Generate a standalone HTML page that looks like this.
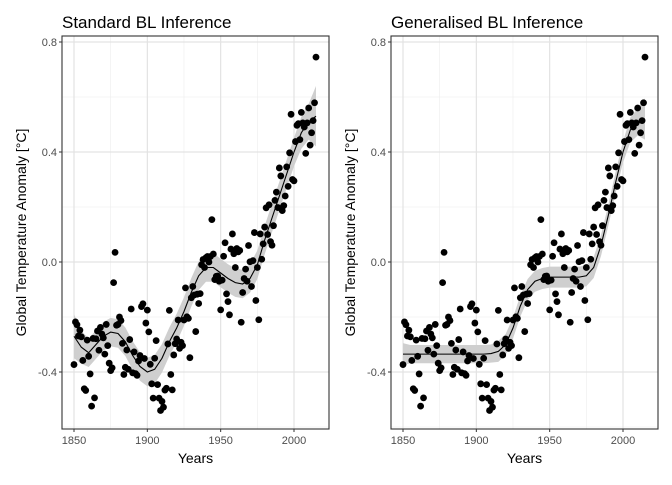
<!DOCTYPE html>
<html><head><meta charset="utf-8"><style>
body{margin:0;background:#fff;font-family:"Liberation Sans",sans-serif}
svg text{font-family:"Liberation Sans",sans-serif}
</style></head><body>
<svg width="672" height="480" xmlns="http://www.w3.org/2000/svg">
<g id="root"></g>
</svg>
<script>
const years=[];for(let y=1850;y<=2015;y++)years.push(y);
const anomalies=[-0.373,-0.218,-0.228,-0.269,-0.248,-0.272,-0.358,-0.461,-0.467,-0.284,-0.343,-0.407,-0.524,-0.278,-0.494,-0.279,-0.251,-0.321,-0.238,-0.262,-0.276,-0.335,-0.227,-0.304,-0.368,-0.395,-0.385,-0.075,0.035,-0.23,-0.227,-0.2,-0.213,-0.296,-0.409,-0.383,-0.32,-0.39,-0.282,-0.171,-0.403,-0.327,-0.406,-0.412,-0.36,-0.34,-0.162,-0.152,-0.351,-0.222,-0.175,-0.254,-0.372,-0.443,-0.495,-0.35,-0.286,-0.446,-0.495,-0.54,-0.507,-0.528,-0.466,-0.459,-0.298,-0.176,-0.409,-0.465,-0.338,-0.297,-0.28,-0.211,-0.314,-0.292,-0.304,-0.211,-0.094,-0.199,-0.205,-0.348,-0.13,-0.089,-0.12,-0.253,-0.117,-0.151,-0.115,-0.01,0.009,-0.02,0.016,0.02,0.0,0.02,0.154,0.029,-0.064,-0.052,-0.051,-0.07,-0.174,-0.066,0.021,0.07,-0.116,-0.144,-0.192,0.047,0.102,0.03,-0.02,0.049,0.037,0.042,-0.219,-0.111,-0.06,-0.026,-0.07,0.06,0.001,-0.089,0.005,0.107,-0.14,-0.02,-0.21,0.102,0.01,0.066,0.127,0.197,0.1,0.208,0.074,0.061,0.132,0.224,0.254,0.198,0.342,0.313,0.187,0.205,0.24,0.346,0.275,0.397,0.537,0.3,0.295,0.438,0.497,0.503,0.445,0.544,0.506,0.491,0.395,0.506,0.56,0.425,0.47,0.514,0.579,0.745];
const fitYears=[1850,1855,1860,1865,1870,1875,1880,1885,1890,1895,1900,1905,1910,1915,1920,1925,1930,1935,1940,1945,1950,1955,1960,1965,1970,1975,1980,1985,1990,1995,2000,2005,2010,2015];
const fitStandard=[-0.27,-0.31,-0.33,-0.30,-0.27,-0.255,-0.26,-0.29,-0.34,-0.38,-0.40,-0.39,-0.35,-0.29,-0.24,-0.18,-0.11,-0.05,-0.02,-0.02,-0.04,-0.06,-0.075,-0.08,-0.06,-0.01,0.08,0.16,0.24,0.32,0.40,0.47,0.51,0.53];
const seStandard=[0.08,0.06,0.052,0.052,0.052,0.052,0.052,0.052,0.052,0.052,0.052,0.052,0.052,0.052,0.052,0.052,0.052,0.052,0.052,0.052,0.052,0.052,0.052,0.052,0.052,0.052,0.052,0.052,0.052,0.052,0.052,0.058,0.065,0.11];
const fitGeneral=[-0.335,-0.335,-0.335,-0.335,-0.335,-0.335,-0.335,-0.335,-0.335,-0.335,-0.335,-0.335,-0.333,-0.325,-0.30,-0.24,-0.16,-0.10,-0.07,-0.06,-0.055,-0.055,-0.055,-0.055,-0.055,-0.05,-0.02,0.06,0.17,0.29,0.40,0.48,0.51,0.52];
const seGeneral=[0.04,0.033,0.033,0.033,0.033,0.033,0.033,0.033,0.033,0.033,0.033,0.033,0.033,0.038,0.038,0.038,0.038,0.038,0.038,0.038,0.038,0.038,0.038,0.038,0.038,0.038,0.038,0.038,0.038,0.038,0.038,0.045,0.05,0.075];
const xTicks=[1850,1900,1950,2000];
const yTicks=[-0.4,0.0,0.4,0.8];
const yTickLabels=["-0.4","0.0","0.4","0.8"];
const NS="http://www.w3.org/2000/svg";
const root=document.getElementById('root');
function mk(tag,attrs,parent){const e=document.createElementNS(NS,tag);for(const k in attrs)e.setAttribute(k,attrs[k]);(parent||root).appendChild(e);return e;}
const yS=v=>262-v*275;
function panel(x0,title,fit,se,nm){
  const xS=y=>x0+12+(y-1850)*220/150;
  const L=x0,R=x0+267,T=36,B=429;
  const g=mk('g',{});
  
  
  [-0.6,-0.2,0.2,0.6].forEach(v=>mk('line',{x1:L,x2:R,y1:yS(v),y2:yS(v),stroke:'#ececec','stroke-width':0.6},g));
  [1875,1925,1975].forEach(v=>mk('line',{x1:xS(v),x2:xS(v),y1:T,y2:B,stroke:'#ececec','stroke-width':0.6},g));
  yTicks.forEach(v=>mk('line',{x1:L,x2:R,y1:yS(v),y2:yS(v),stroke:'#e3e3e3','stroke-width':1.2},g));
  xTicks.forEach(v=>mk('line',{x1:xS(v),x2:xS(v),y1:T,y2:B,stroke:'#e3e3e3','stroke-width':1.2},g));
  let d='';fitYears.forEach((y,i)=>d+=(i?'L':'M')+xS(y)+','+yS(fit[i]+se[i]));
  for(let i=fitYears.length-1;i>=0;i--)d+='L'+xS(fitYears[i])+','+yS(fit[i]-se[i]);
  const rb=mk('path',{d:d+'Z',fill:'#cfcfcf'},g);
  
  
  years.forEach((y,i)=>{const c=mk('circle',{cx:xS(y),cy:yS(anomalies[i]),r:3.4,fill:'#000'},g);
    
    });
  let ld='';fitYears.forEach((y,i)=>ld+=(i?'L':'M')+xS(y)+','+yS(fit[i]));
  const ln=mk('path',{d:ld,fill:'none',stroke:'#000','stroke-width':1.1},g);
  
  
  mk('rect',{x:L,y:T,width:R-L,height:B-T,fill:'none',stroke:'#333','stroke-width':1.1},g);
  yTicks.forEach((v,i)=>{mk('line',{x1:L-3,x2:L,y1:yS(v),y2:yS(v),stroke:'#333'},g);
    const t=mk('text',{x:L-5,y:yS(v)+4,'text-anchor':'end','font-size':11,fill:'#4d4d4d'},g);t.textContent=yTickLabels[i];
    
    });
  xTicks.forEach(v=>{mk('line',{x1:xS(v),x2:xS(v),y1:B,y2:B+3,stroke:'#333'},g);
    const t=mk('text',{x:xS(v),y:B+15,'text-anchor':'middle','font-size':11,fill:'#4d4d4d'},g);t.textContent=v;
    
    });
  const tt=mk('text',{x:L,y:28,'font-size':17,fill:'#000'},g);tt.textContent=title;
  
  
  const xt=mk('text',{x:(L+R)/2,y:463,'text-anchor':'middle','font-size':14,fill:'#000'},g);xt.textContent='Years';
  
  
  const yt=mk('text',{x:0,y:0,'text-anchor':'middle','font-size':14,fill:'#000',transform:`translate(${L-36},${(T+B)/2}) rotate(-90)`},g);yt.textContent='Global Temperature Anomaly [°C]';
  
  
}
panel(62,'Standard BL Inference',fitStandard,seStandard,'standard');
panel(391,'Generalised BL Inference',fitGeneral,seGeneral,'generalised');
</script>
</body></html>
